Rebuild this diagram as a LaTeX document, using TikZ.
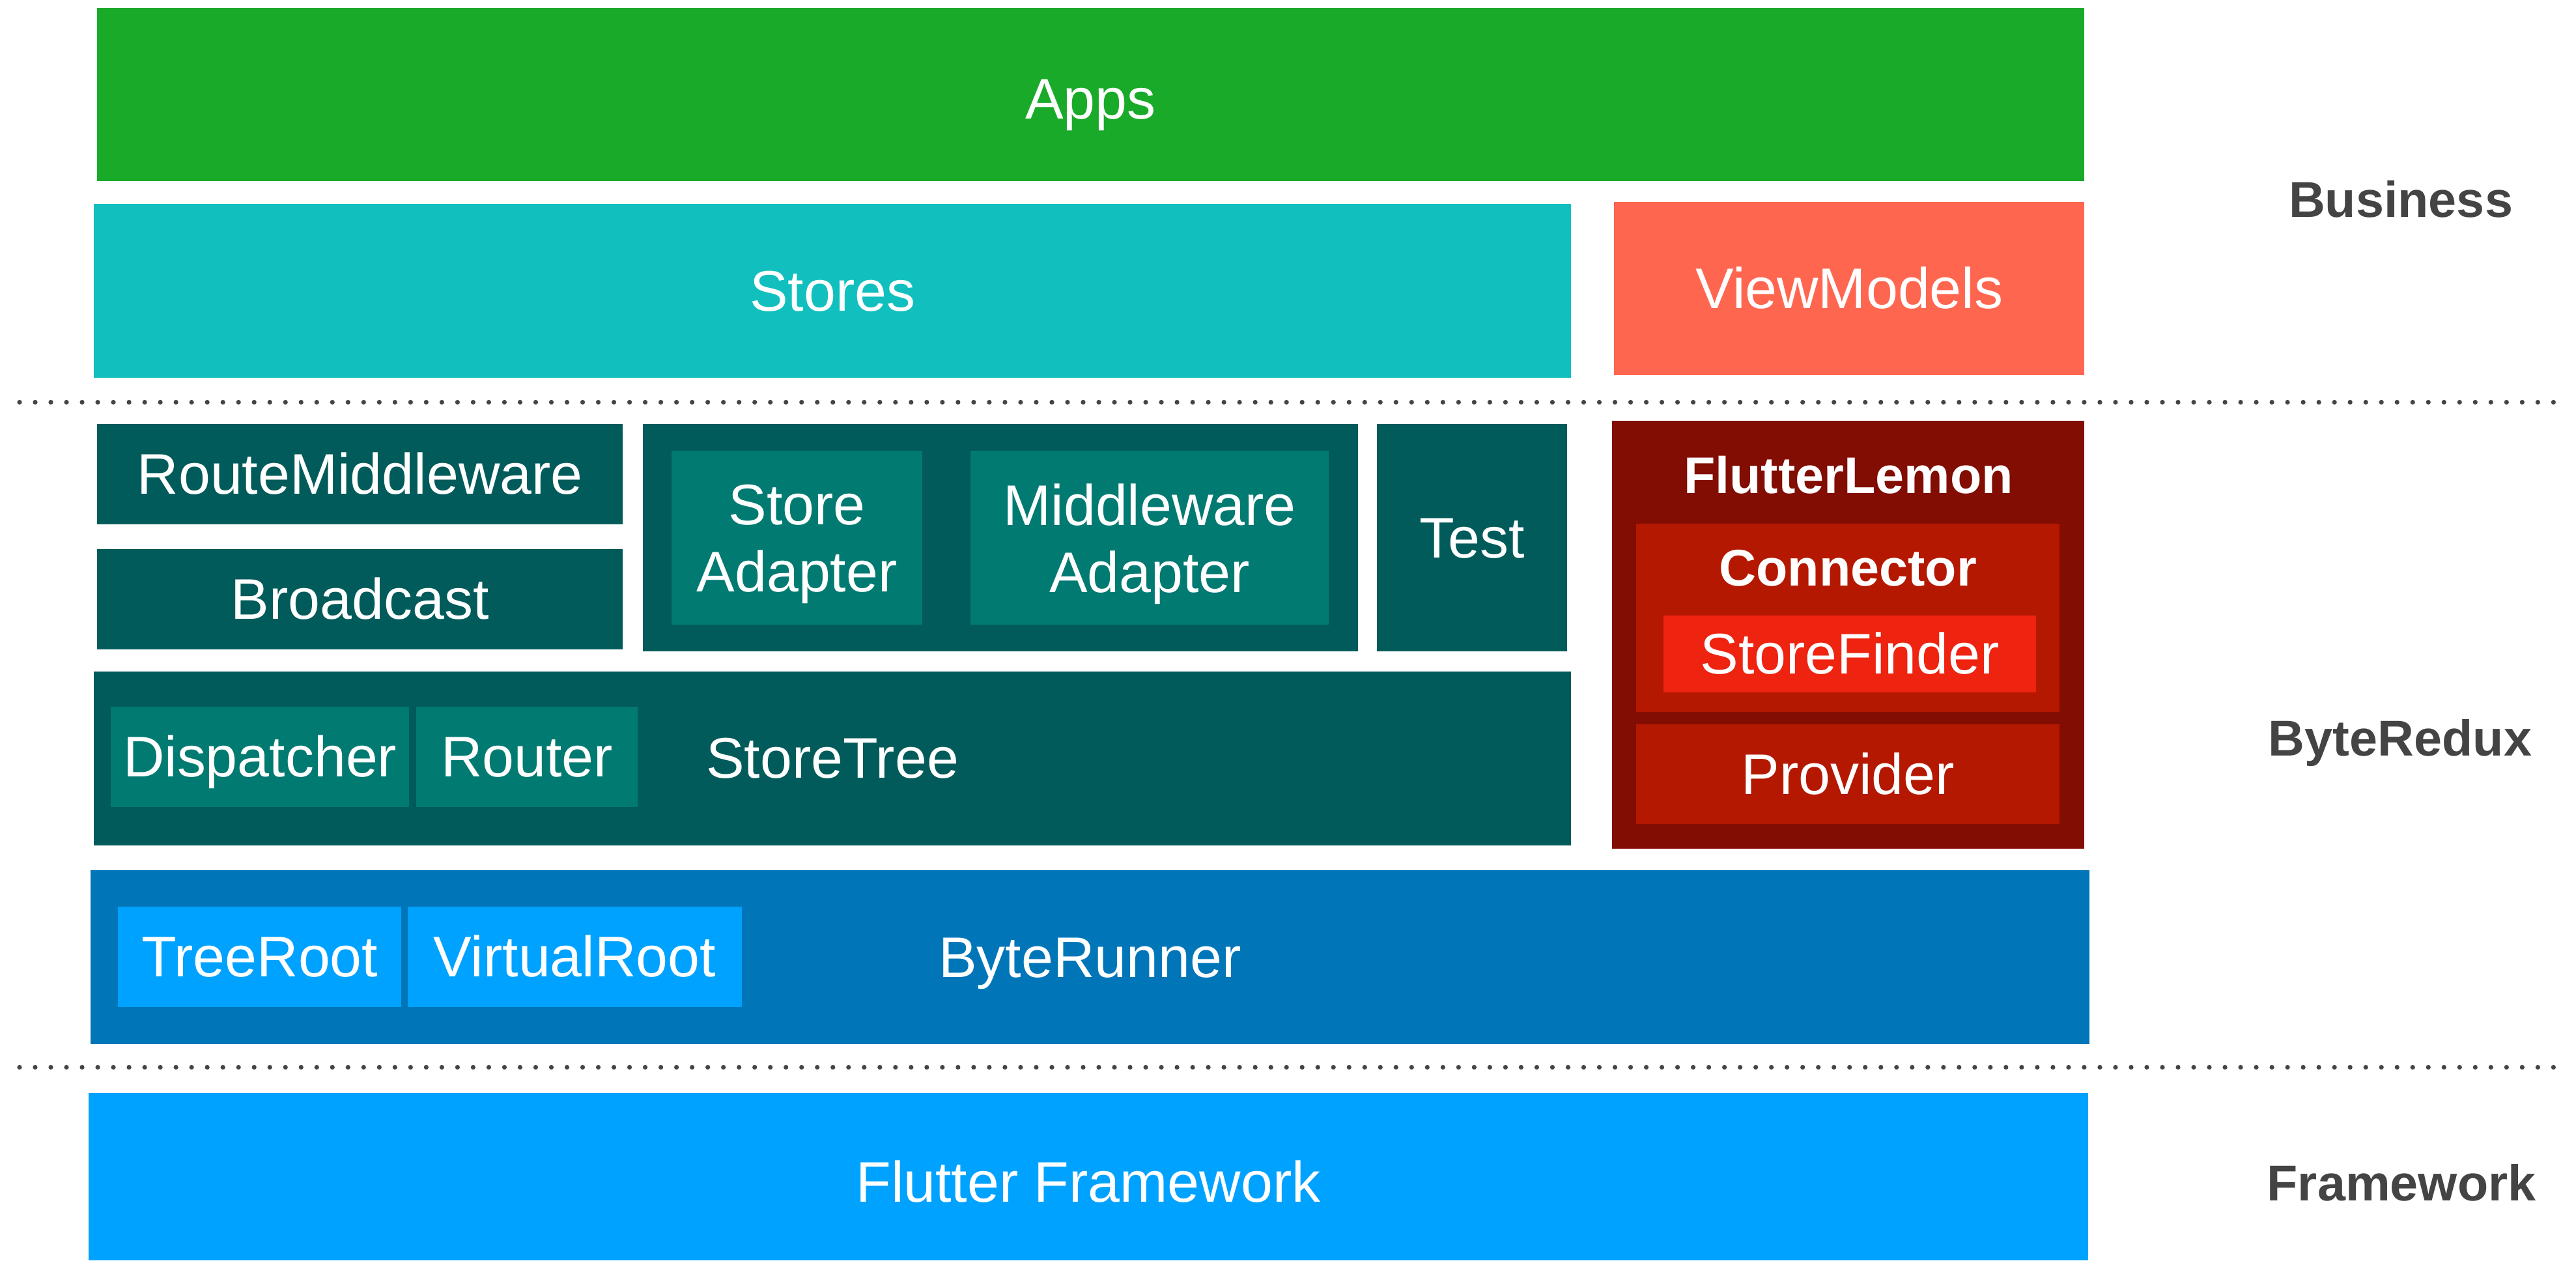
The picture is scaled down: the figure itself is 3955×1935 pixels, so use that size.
\documentclass[tikz,border=0pt]{standalone}
\usepackage{fontspec}
\setmainfont{Liberation Sans}
\definecolor{appsgreen}{HTML}{1AAA29}
\definecolor{storesteal}{HTML}{11C0BE}
\definecolor{vmorange}{HTML}{FF6650}
\definecolor{reduxteal}{HTML}{005B5A}
\definecolor{innerteal}{HTML}{017A72}
\definecolor{lemonred}{HTML}{820D02}
\definecolor{connred}{HTML}{B51800}
\definecolor{finderred}{HTML}{EE2310}
\definecolor{runnerblue}{HTML}{0076B9}
\definecolor{flutterblue}{HTML}{00A2FF}
\definecolor{sidegray}{HTML}{444444}
\tikzset{
	layer/.style={anchor=north west, inner sep=0pt, outer sep=0pt, text=white, font=\fontsize{25}{29.2}\selectfont, text height=17.5pt, text depth=0pt},
	twoline/.style={anchor=north west, inner sep=0pt, outer sep=0pt, minimum height=2.67cm},
	twotext/.style={anchor=center, inner sep=0pt, text=white, font=\fontsize{25}{29.2}\selectfont, align=center},
	headtext/.style={anchor=base, inner sep=0pt, text=white, font=\fontsize{22.5}{27}\selectfont\bfseries},
	sidelabel/.style={anchor=base, inner sep=0pt, text=sidegray, font=\fontsize{22}{26}\selectfont\bfseries},
	dotrule/.style={color=sidegray, line width=0.072cm, line cap=round, dash pattern=on 0pt off 0.24cm},
}
\begin{document}
\begin{tikzpicture}[x=0.01cm, y=-0.01cm]
	\useasboundingbox (0,0) rectangle (3955,1935);
	\node[layer, fill=appsgreen, minimum width=30.49cm, minimum height=2.66cm, text height=21.5pt] (apps) at (149,12) {Apps};
	\node[layer, fill=storesteal, minimum width=22.67cm, minimum height=2.665cm] (stores) at (144,313) {Stores};
	\node[layer, fill=vmorange, minimum width=7.22cm, minimum height=2.66cm] (viewmodels) at (2478,310) {ViewModels};
	\draw[dotrule] (30,617.5) -- (3930,617.5);
	\node[layer, fill=reduxteal, minimum width=8.07cm, minimum height=1.54cm] (routemw) at (149,651) {RouteMiddleware};
	\node[layer, fill=reduxteal, minimum width=8.07cm, minimum height=1.535cm] (broadcast) at (149,843) {Broadcast};
	\node[layer, fill=reduxteal, minimum width=10.97cm, minimum height=3.485cm] (adapters) at (987,651) {};
	\node[twoline, fill=innerteal, minimum width=3.85cm] (storeadapter) at (1031,692) {};
	\node[twotext] (storeadaptertext) at ([yshift=-0.1cm]storeadapter.center) {Store\\Adapter};
	\node[twoline, fill=innerteal, minimum width=5.5cm] (mwadapter) at (1490,692) {};
	\node[twotext] (mwadaptertext) at ([yshift=-0.1cm]mwadapter.center) {Middleware\\Adapter};
	\node[layer, fill=reduxteal, minimum width=2.92cm, minimum height=3.485cm] (test) at (2114,651) {Test};
	\node[layer, fill=reduxteal, minimum width=22.67cm, minimum height=2.67cm] (storetree) at (144,1030.5) {StoreTree};
	\node[layer, fill=innerteal, minimum width=4.58cm, minimum height=1.535cm] (dispatcher) at (170,1085) {Dispatcher};
	\node[layer, fill=innerteal, minimum width=3.4cm, minimum height=1.535cm] (router) at (639,1085) {Router};
	\node[layer, fill=lemonred, minimum width=7.25cm, minimum height=6.565cm] (lemon) at (2475,646) {};
	\node[headtext] (lemontitle) at (2838,757) {FlutterLemon};
	\node[layer, fill=connred, minimum width=6.5cm, minimum height=2.885cm] (connector) at (2512,804) {};
	\node[headtext] (conntitle) at (2837,899) {Connector};
	\node[layer, fill=finderred, minimum width=5.72cm, minimum height=1.175cm] (storefinder) at (2554,945) {StoreFinder};
	\node[layer, fill=connred, minimum width=6.5cm, minimum height=1.53cm] (provider) at (2512,1112) {Provider};
	\node[layer, fill=runnerblue, minimum width=30.67cm, minimum height=2.665cm] (byterunner) at (139,1336) {ByteRunner};
	\node[layer, fill=flutterblue, minimum width=4.35cm, minimum height=1.535cm] (treeroot) at (181,1392) {TreeRoot};
	\node[layer, fill=flutterblue, minimum width=5.125cm, minimum height=1.535cm] (virtualroot) at (626,1392) {VirtualRoot};
	\draw[dotrule] (30,1638.5) -- (3930,1638.5);
	\node[layer, fill=flutterblue, minimum width=30.68cm, minimum height=2.57cm, text height=22pt] (framework) at (136,1678) {Flutter Framework};
	\node[sidelabel] (business) at (3686,333) {Business};
	\node[sidelabel] (byteredux) at (3685,1160) {ByteRedux};
	\node[sidelabel] (frameworklabel) at (3687,1843) {Framework};
\end{tikzpicture}
\end{document}
